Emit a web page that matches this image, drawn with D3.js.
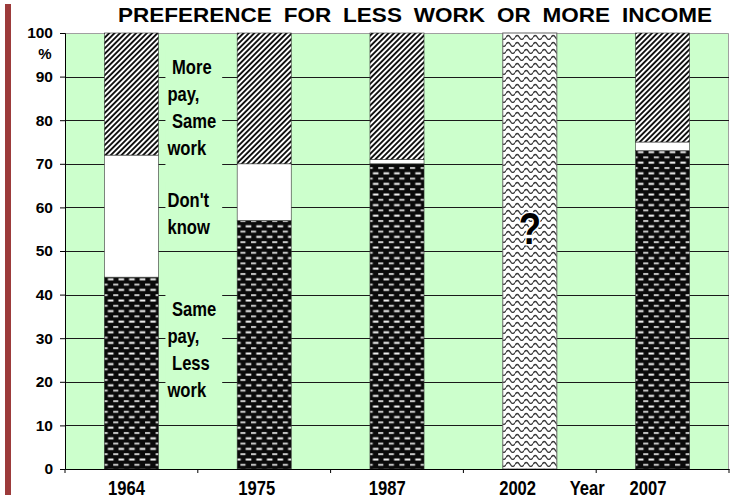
<!DOCTYPE html>
<html>
<head>
<meta charset="utf-8">
<script src="https://cdn.jsdelivr.net/npm/d3@7"></script>
<style>
  body { margin: 0; background: #fff; }
  text { font-family: "Liberation Sans", Arial, sans-serif; font-weight: bold; }
</style>
</head>
<body>
<div class="chart"></div>
<script>
// chart data
const years = ['1964', '1975', '1987', '2002', '2007']
const lessWork = [44, 57, 70, 0, 73]
const dontKnow = [28, 13, 1, 0, 2]
const morePay = [28, 30, 29, 0, 25]
const unknownYear = '2002'
const unknownValue = 100
const yTicks = [0, 10, 20, 30, 40, 50, 60, 70, 80, 90, 100]
const title = 'PREFERENCE FOR LESS WORK OR MORE INCOME'
const xTitle = 'Year'
const labelMorePay = [' More', 'pay,', ' Same', 'work']
const labelDontKnow = ["Don't", 'know']
const labelLessWork = [' Same', 'pay,', ' Less', 'work']

var W = 733, H = 500
var margin = {top: 33, right: 4, bottom: 31, left: 65},
    width = W - margin.left - margin.right,
    height = H - margin.top - margin.bottom
var narrowK = 0.83

// squeeze a text horizontally, like a narrow face
var narrow = function(sel) {
  sel.each(function() {
    var t = d3.select(this)
    var x0 = +t.attr('x') || 0
    var dx0 = +t.attr('dx') || 0
    t.attr('x', x0 / narrowK).attr('dx', dx0 / narrowK)
      .attr('transform', 'scale(' + narrowK + ',1)')
  })
}

var svg = d3.select('.chart').append('svg')
    .attr('width', W)
    .attr('height', H)

var defs = svg.append('defs')

// diagonal stripes ("more pay")
var stripes = defs.append('pattern')
    .attr('id', 'stripes')
    .attr('patternUnits', 'userSpaceOnUse')
    .attr('width', 3.8).attr('height', 3.8)
    .attr('patternTransform', 'rotate(45)')
stripes.append('rect').attr('width', 3.8).attr('height', 3.8).attr('fill', '#fff')
stripes.append('rect').attr('width', 1.9).attr('height', 3.8).attr('fill', '#111')

// black with light dashes ("less work")
var dashes = defs.append('pattern')
    .attr('id', 'dashes')
    .attr('patternUnits', 'userSpaceOnUse')
    .attr('width', 10.6).attr('height', 10.6)
dashes.append('rect').attr('width', 10.6).attr('height', 10.6).attr('fill', '#0a0a0a')
dashes.append('rect').attr('x', 0.5).attr('y', 1.5).attr('width', 5.6).attr('height', 2).attr('fill', '#f6f6f6')
dashes.append('rect').attr('x', 5.8).attr('y', 6.8).attr('width', 5.6).attr('height', 2).attr('fill', '#c8c8c8')
dashes.append('rect').attr('x', -5.3).attr('y', 6.8).attr('width', 5.6).attr('height', 2).attr('fill', '#c8c8c8')

// waves (unknown)
var waves = defs.append('pattern')
    .attr('id', 'waves')
    .attr('patternUnits', 'userSpaceOnUse')
    .attr('width', 9).attr('height', 7)
waves.append('rect').attr('width', 9).attr('height', 7).attr('fill', '#fff')
waves.append('path')
    .attr('d', 'M0,4.5 Q2.25,0.5 4.5,4.5 T9,4.5')
    .attr('fill', 'none').attr('stroke', '#3a3a3a').attr('stroke-width', 1.3)

// red rule on the left
svg.append('rect')
    .attr('x', 5).attr('y', 4).attr('width', 6).attr('height', 491)
    .attr('fill', '#9c3b3b')

// title
svg.append('text')
    .attr('x', 415).attr('y', 22)
    .attr('text-anchor', 'middle')
    .attr('textLength', 594)
    .attr('lengthAdjust', 'spacingAndGlyphs')
    .style('font-size', '20px')
    .style('word-spacing', '5px')
    .text(title)

var g = svg.append('g')
    .attr('transform', 'translate(' + margin.left + ',' + margin.top + ')')

var x = d3.scaleBand()
    .domain(years)
    .range([0, width])
    .padding(0)
var y = d3.scaleLinear()
    .domain([0, 100])
    .range([height, 0])

var barW = x.bandwidth() * 0.407
var barX = function(yr) { return x(yr) + (x.bandwidth() - barW) / 2 }

// plot background
g.append('rect')
    .attr('width', width).attr('height', height)
    .attr('fill', '#ccffcc')
g.append('path')
    .attr('d', 'M0,0.5H' + (width - 0.5) + 'V' + height)
    .attr('fill', 'none').attr('stroke', '#a0a0a0').attr('stroke-width', 1)

// grid
g.selectAll('.grid')
  .data(yTicks.filter(function(d) { return d > 0 && d < 100 }))
  .enter().append('line')
    .attr('class', 'grid')
    .attr('x1', 0).attr('x2', width)
    .attr('y1', function(d) { return Math.round(y(d)) + 0.5 })
    .attr('y2', function(d) { return Math.round(y(d)) + 0.5 })
    .attr('stroke', '#1a1a1a').attr('stroke-width', 1)

// stacked bars
var rows = years.map(function(yr, i) {
  return {year: yr, lessWork: lessWork[i], dontKnow: dontKnow[i], morePay: morePay[i]}
})
var stack = d3.stack().keys(['lessWork', 'dontKnow', 'morePay'])
var fills = {lessWork: 'url(#dashes)', dontKnow: '#fff', morePay: 'url(#stripes)'}

g.selectAll('.layer')
  .data(stack(rows))
  .enter().append('g')
    .attr('class', 'layer')
    .attr('fill', function(d) { return fills[d.key] })
  .selectAll('rect')
  .data(function(d) { return d.filter(function(s) { return s[1] > s[0] }) })
  .enter().append('rect')
    .attr('x', function(d) { return barX(d.data.year) })
    .attr('width', barW)
    .attr('y', function(d) { return y(d[1]) })
    .attr('height', function(d) { return y(d[0]) - y(d[1]) })
    .attr('stroke', '#333').attr('stroke-width', 0.6)

// unknown year
g.append('rect')
    .attr('x', barX(unknownYear))
    .attr('width', barW)
    .attr('y', y(unknownValue))
    .attr('height', height - y(unknownValue))
    .attr('fill', 'url(#waves)')
    .attr('stroke', '#666').attr('stroke-width', 1)
g.append('text')
    .attr('x', barX(unknownYear) + barW / 2)
    .attr('y', y(51.5))
    .attr('text-anchor', 'middle')
    .style('font-size', '44px')
    .style('paint-order', 'stroke')
    .attr('stroke', '#fff').attr('stroke-width', 3)
    .attr('fill', '#000')
    .text('?')
    .call(narrow)

// annotations between first two bars
var annLeft = barX(years[0]) + barW + 7
var annRight = barX(years[1]) - 15
var lineH = 27
function annotate(lines, centerValue) {
  var cy = y(centerValue)
  var top = cy - lines.length * lineH / 2
  g.append('rect')
    .attr('x', annLeft).attr('width', annRight - annLeft)
    .attr('y', top - 4).attr('height', lines.length * lineH + 8)
    .attr('fill', '#ccffcc')
  g.append('g').selectAll('text')
    .data(lines)
    .enter().append('text')
      .attr('x', annLeft + 2)
      .attr('y', function(d, i) { return top + lineH * i + lineH / 2 + 7 })
      .style('font-size', '20px')
      .style('white-space', 'pre')
      .text(function(d) { return d })
      .call(narrow)
}
annotate(labelMorePay, 83)
annotate(labelDontKnow, 58.7)
annotate(labelLessWork, 27.3)

// axes
var yAxis = g.append('g')
    .call(d3.axisLeft(y).tickValues(yTicks).tickSize(5).tickPadding(7))
yAxis.attr('font-family', null).attr('font-size', null)
yAxis.select('.domain').attr('stroke', '#000')
yAxis.selectAll('text').style('font-size', '15.5px')
yAxis.selectAll('.tick line').attr('stroke', '#000')
g.append('text')
    .attr('x', -20).attr('y', y(96) + 9)
    .attr('text-anchor', 'middle')
    .style('font-size', '15px')
    .text('%')

var xAxis = g.append('g')
    .attr('transform', 'translate(0,' + height + ')')
    .call(d3.axisBottom(x).tickSize(0).tickPadding(12))
xAxis.attr('font-family', null).attr('font-size', null)
xAxis.select('.domain').attr('stroke', '#000')
xAxis.selectAll('text').style('font-size', '20px')
    .attr('dx', function(d, i) { return -(5 + 2.4 * i) })
    .call(narrow)
xAxis.selectAll('.sep')
  .data(years.concat(['end']))
  .enter().append('line')
    .attr('x1', function(d, i) { return i * x.bandwidth() })
    .attr('x2', function(d, i) { return i * x.bandwidth() })
    .attr('y1', 0).attr('y2', 4)
    .attr('stroke', '#000')
xAxis.append('text')
    .attr('x', x(years[4]) - 9).attr('y', 26)
    .attr('text-anchor', 'middle')
    .attr('fill', '#000')
    .style('font-size', '20px')
    .text(xTitle)
    .call(narrow)
</script>
</body>
</html>
